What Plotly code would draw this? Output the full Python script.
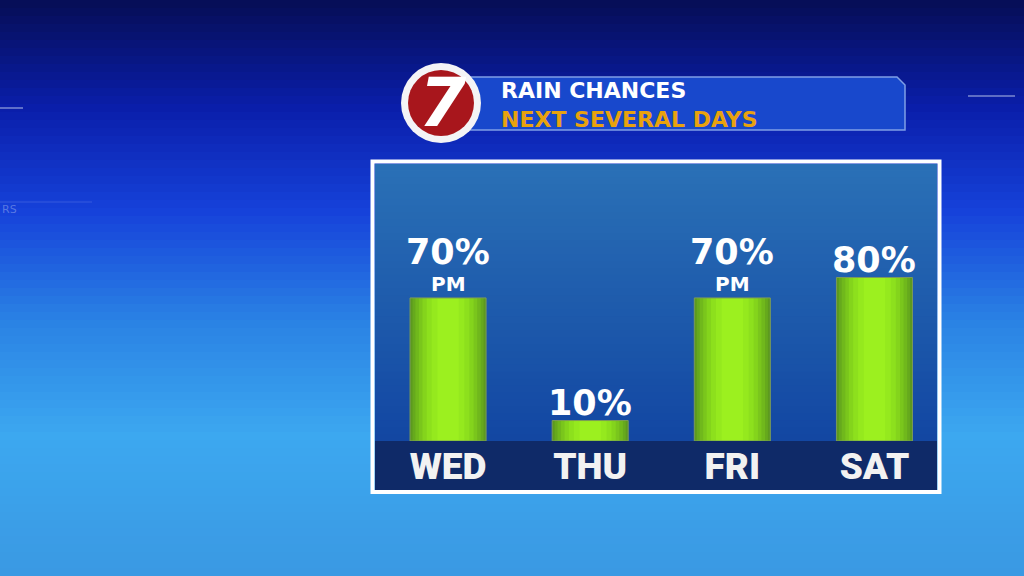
import plotly.graph_objects as go

# rain chances by day
days = ["WED", "THU", "FRI", "SAT"]
chances = [70, 10, 70, 80]
notes = ["PM", "", "PM", ""]

W, H = 1024, 576


def px(x):
    return x / W


def py(y):
    return 1 - y / H


def mix(c1, c2, t):
    return "rgb(%d,%d,%d)" % tuple(round(a + (b - a) * t) for a, b in zip(c1, c2))


def vgrad(stops, x0, x1, y0, y1, n):
    # stack thin horizontal strips to fake a vertical gradient
    out = []
    step = (y1 - y0) / n
    for i in range(n):
        yy = y0 + i * step
        pos = (yy - y0) / (y1 - y0)
        for (p0, c0), (p1, c1) in zip(stops[:-1], stops[1:]):
            if p0 <= pos <= p1:
                col = mix(c0, c1, (pos - p0) / (p1 - p0))
                break
        bottom = min(yy + step + 2, y1)
        out.append(dict(type="rect", xref="paper", yref="paper",
                        x0=px(x0), x1=px(x1), y0=py(bottom), y1=py(yy),
                        fillcolor=col, line_width=0, layer="below"))
    return out


shapes = []
# screen background
shapes += vgrad([(0, (6, 14, 88)), (0.18, (10, 30, 170)), (0.36, (22, 66, 218)),
                 (0.55, (42, 130, 228)), (0.75, (60, 168, 240)), (1, (58, 152, 226))],
                0, W, 0, H, 72)
# chart panel
shapes += vgrad([(0, (42, 112, 182)), (1, (18, 70, 162))], 375, 937, 164, 441, 40)
shapes.append(dict(type="rect", xref="paper", yref="paper", x0=px(375), x1=px(937),
                   y0=py(490), y1=py(441), fillcolor="#0f2a68", line_width=0, layer="below"))
shapes.append(dict(type="rect", xref="paper", yref="paper", x0=px(372.5), x1=px(939.5),
                   y0=py(492), y1=py(161.5), line=dict(color="white", width=4),
                   fillcolor="rgba(0,0,0,0)", layer="below"))
# faint background details
shapes.append(dict(type="line", xref="paper", yref="paper", x0=0, x1=px(23),
                   y0=py(108), y1=py(108), line=dict(color="rgba(200,210,240,0.45)", width=2),
                   layer="below"))
shapes.append(dict(type="line", xref="paper", yref="paper", x0=px(968), x1=px(1015),
                   y0=py(96), y1=py(96), line=dict(color="rgba(200,210,240,0.45)", width=2),
                   layer="below"))
shapes.append(dict(type="line", xref="paper", yref="paper", x0=0, x1=px(92),
                   y0=py(202), y1=py(202), line=dict(color="rgba(150,170,240,0.25)", width=1),
                   layer="below"))

# header banner
bx0, bx1, by0, by1 = 470, 905, 77, 130
path = "M %f,%f L %f,%f L %f,%f L %f,%f L %f,%f Z" % (
    px(bx0), py(by0), px(bx1 - 8), py(by0), px(bx1), py(by0 + 8),
    px(bx1), py(by1), px(bx0), py(by1))
shapes.append(dict(type="path", xref="paper", yref="paper", path=path, layer="below",
                   fillcolor="#1848cc", line=dict(color="#7f9fe6", width=1.5)))
# station logo
cx, cy = 441, 103
shapes.append(dict(type="circle", xref="paper", yref="paper", layer="below",
                   x0=px(cx - 40), x1=px(cx + 40), y0=py(cy + 40), y1=py(cy - 40),
                   fillcolor="#f4f4f6", line_width=0))
shapes.append(dict(type="circle", xref="paper", yref="paper", layer="below",
                   x0=px(cx - 33), x1=px(cx + 33), y0=py(cy + 33), y1=py(cy - 33),
                   fillcolor="#a8161c", line_width=0))

fig = go.Figure()

# layered bars to mimic the cylinder shading
layers = [(0.535, "#5c9a1e"), (0.50, "#66a91d"), (0.46, "#70b81c"), (0.41, "#7ac61c"),
          (0.36, "#84d41c"), (0.30, "#8de01d"), (0.23, "#95e91e"), (0.15, "#9cf01f")]
for wdt, col in layers:
    fig.add_trace(go.Bar(
        x=days, y=chances, width=wdt,
        marker=dict(color=col, line=dict(width=0)),
        hoverinfo="skip", showlegend=False,
    ))
fig.add_trace(go.Bar(
    x=days, y=chances, width=0.535,
    marker=dict(color="rgba(0,0,0,0)", line=dict(color="#7a9a5a", width=1)),
    hoverinfo="skip", showlegend=False,
))

annotations = []
for d, v, n in zip(days, chances, notes):
    big_shift = -4
    if n:
        annotations.append(dict(x=d, y=v, xref="x", yref="y", text="<b>%s</b>" % n,
                                showarrow=False, yanchor="bottom", yshift=0,
                                font=dict(family="DejaVu Sans", size=20, color="white")))
        big_shift = 24
    annotations.append(dict(x=d, y=v, xref="x", yref="y", text="<b>%d%%</b>" % v,
                            showarrow=False, yanchor="bottom", yshift=big_shift,
                            font=dict(family="DejaVu Sans", size=35, color="white")))

annotations += [
    dict(x=px(cx + 2), y=py(cy), xref="paper", yref="paper", text="<b><i>7</i></b>",
         showarrow=False, xanchor="center", yanchor="middle",
         font=dict(family="DejaVu Sans", size=68, color="white")),
    dict(x=px(499), y=py(105), xref="paper", yref="paper",
         text="<b>RAIN CHANCES</b><br><b><span style='color:#e8a20e'>NEXT SEVERAL DAYS</span></b>",
         showarrow=False, xanchor="left", yanchor="middle", align="left",
         font=dict(family="DejaVu Sans", size=22, color="white")),
    dict(x=0, y=py(210), xref="paper", yref="paper", text="RS",
         showarrow=False, xanchor="left", yanchor="middle",
         font=dict(family="DejaVu Sans", size=11, color="rgba(170,190,240,0.45)")),
]

fig.update_layout(
    width=W, height=H,
    margin=dict(l=0, r=0, t=0, b=0),
    paper_bgcolor="#1a3fc8",
    plot_bgcolor="rgba(0,0,0,0)",
    barmode="overlay",
    shapes=shapes,
    annotations=annotations,
    xaxis=dict(domain=[px(375), px(937)], range=[-0.514, 3.44],
               showgrid=False, zeroline=False, showline=False, ticks="",
               ticklabelstandoff=0,
               tickfont=dict(family="Roboto", size=37, color="#f2f2f2", weight=900)),
    yaxis=dict(domain=[py(441), py(161)], range=[0, 137], visible=False,
               showgrid=False, zeroline=False),
    font=dict(family="DejaVu Sans"),
)

fig.write_html("out.html", config={"displayModeBar": False},
               post_script="document.body.style.margin='0';")
